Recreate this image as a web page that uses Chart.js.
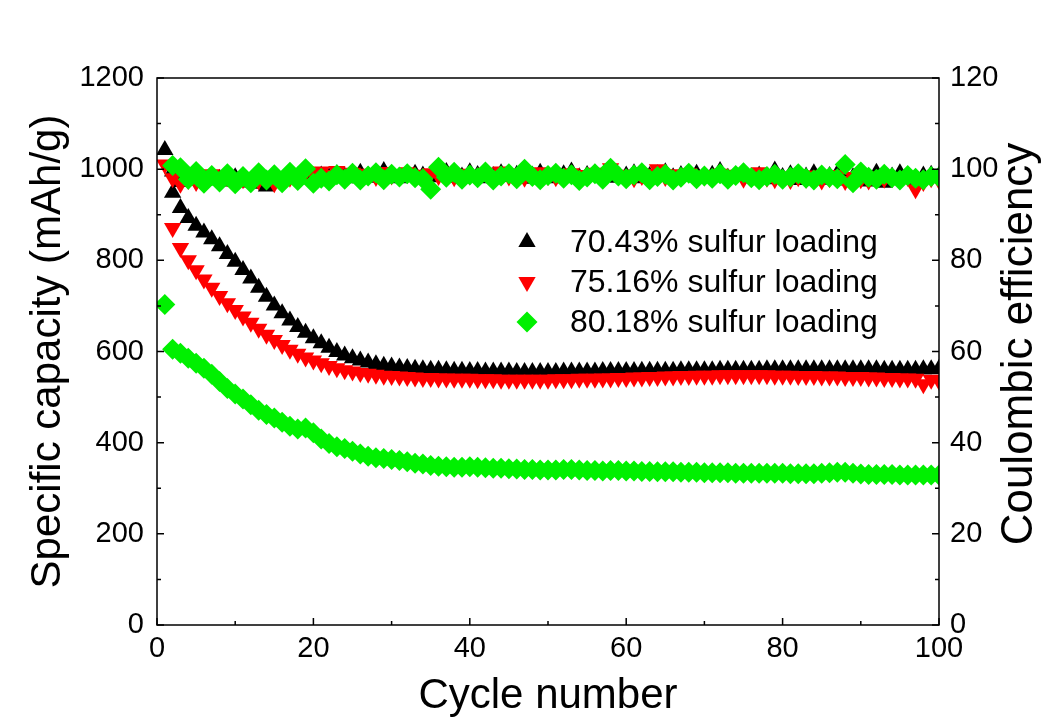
<!DOCTYPE html>
<html>
<head>
    <title>Capacity and Coulombic efficiency</title>
    <style>
        body { margin: 0; background: #ffffff; }
        #wrap { width: 1046px; height: 727px; }
    </style>
    <script src="https://cdn.jsdelivr.net/npm/chart.js"></script>
</head>
<body>
    <div id="wrap">
        <canvas id="cycleChart" width="1046" height="727"></canvas>
    </div>
    <script>
        // cycle numbers (categories on the x axis)
        var cycles = Array.from({ length: 100 }, function (_, i) { return i + 1; });

        var seriesNames = ['70.43% sulfur loading', '75.16% sulfur loading', '80.18% sulfur loading'];

        // specific capacity, mAh/g
        var capBlack = [
            1042, 948, 915, 893, 876, 861, 846, 831, 814, 797,
            779, 760, 740, 720, 701, 684, 668, 654, 641, 629,
            618, 608, 599, 591, 585, 580, 576, 572, 569, 567,
            565, 564, 562, 561, 560, 560, 559, 558, 558, 557,
            557, 556, 556, 556, 556, 555, 555, 555, 555, 555,
            555, 556, 556, 556, 556, 556, 557, 557, 557, 557,
            557, 558, 558, 558, 558, 558, 559, 559, 559, 559,
            559, 560, 560, 560, 560, 560, 560, 561, 561, 561,
            561, 561, 561, 561, 561, 561, 561, 561, 561, 561,
            561, 561, 560, 560, 560, 560, 560, 561, 561, 562
        ];
        var capRed = [
            1010, 871, 827, 800, 778, 758, 740, 722, 706, 691,
            677, 663, 650, 637, 625, 614, 604, 595, 587, 580,
            574, 568, 563, 559, 556, 553, 551, 549, 547, 546,
            545, 544, 543, 542, 542, 541, 541, 540, 540, 540,
            539, 539, 539, 538, 538, 538, 538, 538, 538, 538,
            539, 539, 539, 540, 540, 540, 541, 541, 542, 542,
            543, 543, 544, 544, 545, 545, 546, 546, 547, 547,
            547, 548, 548, 548, 548, 548, 548, 548, 547, 547,
            547, 546, 546, 546, 545, 545, 545, 544, 544, 544,
            543, 543, 542, 542, 541, 541, 540, 528, 538, 536
        ];
        var capGreen = [
            703, 605, 596, 585, 574, 563, 550, 534, 519, 507,
            496, 483, 471, 462, 454, 445, 436, 430, 432, 422,
            408, 398, 391, 387, 381, 375, 370, 367, 365, 363,
            361, 358, 355, 353, 350, 348, 347, 346, 346, 347,
            346, 345, 344, 344, 343, 342, 341, 341, 340, 340,
            340, 341, 341, 340, 339, 339, 338, 339, 339, 338,
            338, 337, 337, 336, 336, 336, 335, 335, 335, 334,
            334, 334, 334, 333, 333, 333, 333, 333, 333, 333,
            332, 332, 332, 332, 333, 334, 335, 335, 333, 331,
            330, 330, 330, 330, 329, 329, 329, 329, 329, 329
        ];

        // coulombic efficiency, %
        var ceBlack = [
            null, 99.5, 97.2, 97.5, 97.8, 97.4, 97.6, 97.9, 97.3, 98.2,
            97.6, 97.1, 96.8, 96.2, 97.0, 97.5, 98.0, 98.4, 97.8, 98.3,
            98.6, 98.2, 98.9, 98.4, 98.0, 99.2, 98.5, 98.1, 99.6, 98.3,
            98.0, 98.8, 99.0, 98.6, 98.2, 98.9, 99.4, 98.1, 98.4, 99.3,
            98.7, 98.0, 98.5, 99.1, 98.3, 98.8, 97.9, 98.6, 99.2, 98.4,
            98.0, 98.9, 99.5, 98.2, 98.7, 99.0, 98.3, 99.4, 98.1, 98.6,
            99.1, 98.0, 98.5, 98.9, 99.3, 98.2, 98.7, 98.4, 99.0, 98.3,
            98.8, 99.6, 98.1, 98.5, 99.2, 98.0, 98.6, 97.8, 99.7, 98.3,
            98.9, 97.6, 98.4, 99.1, 97.7, 98.5, 99.0, 97.5, 98.2, 97.4,
            97.3, 99.2, 97.0, 98.4, 99.1, 98.0, 97.4, 98.6, 98.8, 98.5
        ];
        var ceRed = [
            null, 98.0, 96.8, 97.6, 97.2, 98.6, 98.9, 97.4, 98.2, 97.0,
            97.8, 98.3, 97.5, 97.9, 96.9, 97.4, 98.1, 98.7, 99.4, 99.0,
            99.5, 98.8, 99.6, 98.5, 99.2, 98.7, 99.0, 98.3, 99.4, 98.6,
            98.9, 99.3, 98.4, 98.8, 99.1, 98.5, 99.4, 98.2, 99.0, 98.6,
            98.3, 99.2, 98.7, 99.5, 98.4, 99.0, 98.1, 98.8, 99.3, 98.5,
            98.2, 98.9, 99.1, 98.4, 98.7, 99.2, 98.3, 100.2, 98.6, 98.8,
            98.0, 98.5, 99.0, 100.0, 98.3, 98.9, 98.2, 99.1, 98.6, 98.4,
            98.7, 99.0, 98.2, 98.8, 97.9, 98.5, 99.3, 98.1, 97.8, 98.4,
            97.6, 98.2, 97.9, 98.6, 97.5, 98.0, 98.7, 97.4, 98.3, 97.8,
            97.5, 98.4, 97.9, 98.1, 97.7, 98.3, 95.6, 97.2, 98.0, 97.6
        ];
        var ceGreen = [
            null, 100.8, 100.3, 97.8, 99.5, 96.9, 98.6, 97.2, 99.0, 96.8,
            98.4, 97.0, 99.2, 97.6, 98.8, 97.0, 99.3, 97.5, 100.1, 96.9,
            98.0, 97.4, 98.8, 97.8, 99.1, 97.6, 98.5, 99.2, 97.7, 98.9,
            98.3, 99.0, 98.1, 97.9, 95.6, 100.4, 98.2, 99.3, 97.8, 98.7,
            98.1, 99.4, 97.6, 98.5, 99.0, 97.9, 100.0, 98.4, 97.7, 98.6,
            99.1, 98.0, 98.8, 97.5, 98.3, 99.0, 97.8, 100.2, 98.5, 97.9,
            98.7, 99.2, 97.7, 98.4, 98.9, 97.6, 98.2, 99.1, 97.9, 98.5,
            98.0, 99.0, 97.8, 98.6, 99.2, 98.1, 97.7, 98.4, 98.9, 97.8,
            98.3, 99.0, 98.0, 97.6, 98.7, 98.2, 97.9, 101.0, 97.0, 99.4,
            98.2, 97.8, 98.9, 98.1, 97.6, 98.6, 98.0, 97.7, 98.4, 98.3
        ];

        var xTicks = [0, 20, 40, 60, 80, 100];
        var capTicks = [0, 200, 400, 600, 800, 1000, 1200];
        var ceTicks = [0, 20, 40, 60, 80, 100, 120];

        var FONT = 'Liberation Sans, Arial, sans-serif';
        var colors = ['#000000', '#ff0000', '#00f000'];
        var styles = [
            { pointStyle: 'triangle', rotation: 0, radius: 10 },
            { pointStyle: 'triangle', rotation: 180, radius: 10 },
            { pointStyle: 'rectRot', rotation: 0, radius: 10.5 }
        ];

        function toPoints(values) {
            return cycles.map(function (c, i) { return { x: c, y: values[i] }; });
        }

        function plainLabel(value) { return String(value); }

        function makeSet(idx, values, axis, order) {
            return {
                label: seriesNames[idx],
                data: toPoints(values),
                yAxisID: axis,
                showLine: false,
                pointStyle: styles[idx].pointStyle,
                rotation: styles[idx].rotation,
                pointRadius: styles[idx].radius,
                pointBorderWidth: 0,
                pointBackgroundColor: colors[idx],
                pointBorderColor: colors[idx],
                order: order
            };
        }

        // frame, inward ticks, right title and legend drawn on top
        var decorPlugin = {
            id: 'decor',
            afterDraw: function (chart) {
                var ctx = chart.ctx;
                var a = chart.chartArea;
                var sx = chart.scales.x, sy = chart.scales.y, sy2 = chart.scales.y2;
                ctx.save();
                ctx.strokeStyle = '#000';
                ctx.lineWidth = 1.5;
                ctx.strokeRect(a.left, a.top, a.right - a.left, a.bottom - a.top);
                ctx.beginPath();
                var v, p, len;
                for (v = 0; v <= 100; v += 10) {
                    p = sx.getPixelForValue(v);
                    len = (v % 20 === 0) ? 7 : 4;
                    ctx.moveTo(p, a.bottom);
                    ctx.lineTo(p, a.bottom - len);
                }
                for (v = 0; v <= 1200; v += 100) {
                    p = sy.getPixelForValue(v);
                    len = (v % 200 === 0) ? 7 : 4;
                    ctx.moveTo(a.left, p);
                    ctx.lineTo(a.left + len, p);
                }
                for (v = 0; v <= 120; v += 10) {
                    p = sy2.getPixelForValue(v);
                    len = (v % 20 === 0) ? 7 : 4;
                    ctx.moveTo(a.right, p);
                    ctx.lineTo(a.right - len, p);
                }
                ctx.stroke();

                // right axis title, reading bottom to top
                ctx.fillStyle = '#000';
                ctx.font = '44px ' + FONT;
                ctx.textAlign = 'center';
                ctx.textBaseline = 'middle';
                ctx.translate(1020, 344);
                ctx.rotate(-Math.PI / 2);
                ctx.fillText('Coulombic efficiency', 0, 0);
                ctx.restore();

                // legend
                ctx.save();
                ctx.font = '32px ' + FONT;
                ctx.textAlign = 'left';
                ctx.textBaseline = 'middle';
                for (var i = 0; i < 3; i++) {
                    var ly = 242 + i * 40;
                    ctx.fillStyle = colors[i];
                    var st = styles[i];
                    Chart.helpers.drawPoint(ctx, {
                        pointStyle: st.pointStyle,
                        rotation: st.rotation,
                        radius: st.radius,
                        borderWidth: 0
                    }, 527, ly);
                    ctx.fillStyle = '#000';
                    ctx.fillText(seriesNames[i], 570, ly + 1);
                }
                ctx.restore();
            }
        };

        var ctx = document.getElementById('cycleChart').getContext('2d');
        var myChart = new Chart(ctx, {
            type: 'scatter',
            data: {
                datasets: [
                    makeSet(0, capBlack, 'y', 6),
                    makeSet(1, capRed, 'y', 5),
                    makeSet(2, capGreen, 'y', 4),
                    makeSet(0, ceBlack, 'y2', 3),
                    makeSet(1, ceRed, 'y2', 2),
                    makeSet(2, ceGreen, 'y2', 1)
                ]
            },
            options: {
                responsive: false,
                animation: false,
                events: [],
                layout: { padding: { top: 78, left: 0, right: 0, bottom: 0 } },
                plugins: {
                    legend: { display: false },
                    tooltip: { enabled: false }
                },
                scales: {
                    x: {
                        type: 'linear',
                        min: 0,
                        max: 100,
                        afterBuildTicks: function (s) { s.ticks = xTicks.map(function (v) { return { value: v }; }); },
                        afterFit: function (s) { s.height = 102; },
                        grid: { display: false, drawTicks: false },
                        border: { display: false },
                        ticks: { font: { family: FONT, size: 29 }, color: '#000', padding: 7, maxRotation: 0, callback: plainLabel },
                        title: { display: true, text: 'Cycle number', font: { family: FONT, size: 42 }, color: '#000', padding: { top: 0, bottom: 5 } }
                    },
                    y: {
                        position: 'left',
                        min: 0,
                        max: 1200,
                        afterBuildTicks: function (s) { s.ticks = capTicks.map(function (v) { return { value: v }; }); },
                        afterFit: function (s) { s.width = 157; },
                        grid: { display: false, drawTicks: false },
                        border: { display: false },
                        ticks: { font: { family: FONT, size: 29 }, color: '#000', padding: 13, callback: plainLabel },
                        title: { display: true, text: 'Specific capacity (mAh/g)', font: { family: FONT, size: 42 }, color: '#000', padding: { top: 23, bottom: 0 } }
                    },
                    y2: {
                        position: 'right',
                        min: 0,
                        max: 120,
                        afterBuildTicks: function (s) { s.ticks = ceTicks.map(function (v) { return { value: v }; }); },
                        afterFit: function (s) { s.width = 107; },
                        grid: { display: false, drawTicks: false },
                        border: { display: false },
                        ticks: { font: { family: FONT, size: 29 }, color: '#000', padding: 11, callback: plainLabel }
                    }
                }
            },
            plugins: [decorPlugin]
        });
    </script>
</body>
</html>
